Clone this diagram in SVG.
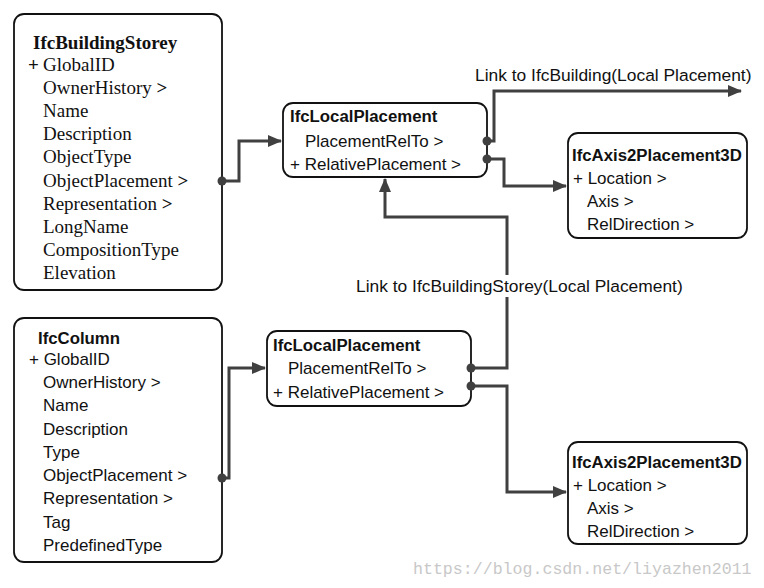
<svg xmlns="http://www.w3.org/2000/svg" width="764" height="588" viewBox="0 0 764 588">
<style>
.box{fill:#fff;stroke:#111;stroke-width:1.8}
.serif{font-family:"Liberation Serif","Times New Roman",serif;font-size:19px;fill:#111}
.serifb{font-family:"Liberation Serif","Times New Roman",serif;font-size:19px;font-weight:bold;fill:#111}
.sans{font-family:"Liberation Sans",Arial,sans-serif;font-size:17px;fill:#111}
.sansb{font-family:"Liberation Sans",Arial,sans-serif;font-size:16.8px;font-weight:bold;fill:#111}
.lbl{font-family:"Liberation Sans",Arial,sans-serif;font-size:17.4px;fill:#111}
.b{font-weight:bold}
.conn{fill:none;stroke:#404040;stroke-width:3;stroke-linejoin:miter}
.dot{fill:#404040}
.wm{font-family:"Liberation Mono","Courier New",monospace;font-size:16.6px;fill:#c8c8c8}
</style>
<defs>
<marker id="arr" markerUnits="userSpaceOnUse" markerWidth="14" markerHeight="12" viewBox="0 0 14 12" refX="13" refY="6" orient="auto">
<path d="M0,0 L14,6 L0,12 Z" fill="#404040"/>
</marker>
</defs>

<g id="IfcBuildingStorey">
<rect class="box" x="14" y="14" width="208" height="276" rx="10"/>
<text class="serifb" x="33" y="49">IfcBuildingStorey</text>
<text class="serifb" x="28" y="71">+</text>
<text class="serif" x="43" y="71">GlobalID</text>
<text class="serif" x="43" y="94">OwnerHistory <tspan class="b">&gt;</tspan></text>
<text class="serif" x="43" y="117">Name</text>
<text class="serif" x="43" y="140">Description</text>
<text class="serif" x="43" y="163">ObjectType</text>
<text class="serif" x="43" y="187">ObjectPlacement <tspan class="b">&gt;</tspan></text>
<text class="serif" x="43" y="210">Representation <tspan class="b">&gt;</tspan></text>
<text class="serif" x="43" y="233">LongName</text>
<text class="serif" x="43" y="256">CompositionType</text>
<text class="serif" x="43" y="279">Elevation</text>
</g>

<g id="IfcColumn">
<rect class="box" x="14" y="318" width="208" height="244" rx="10"/>
<text class="sansb" x="38" y="344">IfcColumn</text>
<text class="sans" x="29" y="365">+ GlobalID</text>
<text class="sans" x="43" y="388">OwnerHistory &gt;</text>
<text class="sans" x="43" y="411">Name</text>
<text class="sans" x="43" y="435">Description</text>
<text class="sans" x="43" y="458">Type</text>
<text class="sans" x="43" y="481">ObjectPlacement &gt;</text>
<text class="sans" x="43" y="504">Representation &gt;</text>
<text class="sans" x="43" y="528">Tag</text>
<text class="sans" x="43" y="551">PredefinedType</text>
</g>

<g id="IfcLocalPlacement1">
<rect class="box" x="283" y="103" width="204" height="74" rx="10"/>
<text class="sansb" x="290" y="122">IfcLocalPlacement</text>
<text class="sans" x="305" y="147">PlacementRelTo &gt;</text>
<text class="sans" x="290" y="170">+ RelativePlacement &gt;</text>
</g>

<g id="IfcAxis2Placement3D1">
<rect class="box" x="568" y="133" width="179" height="105" rx="10"/>
<text class="sansb" x="572" y="161">IfcAxis2Placement3D</text>
<text class="sans" x="573" y="184">+ Location &gt;</text>
<text class="sans" x="587" y="207">Axis &gt;</text>
<text class="sans" x="587" y="230">RelDirection &gt;</text>
</g>

<g id="IfcLocalPlacement2">
<rect class="box" x="267" y="331" width="204" height="75" rx="10"/>
<text class="sansb" x="273" y="351">IfcLocalPlacement</text>
<text class="sans" x="288" y="374">PlacementRelTo &gt;</text>
<text class="sans" x="273" y="398">+ RelativePlacement &gt;</text>
</g>

<g id="IfcAxis2Placement3D2">
<rect class="box" x="568" y="442" width="179" height="102" rx="10"/>
<text class="sansb" x="572" y="468">IfcAxis2Placement3D</text>
<text class="sans" x="573" y="491">+ Location &gt;</text>
<text class="sans" x="587" y="514">Axis &gt;</text>
<text class="sans" x="587" y="537">RelDirection &gt;</text>
</g>

<g id="connectors">
<path class="conn" d="M222,181 H239 V141 H281" marker-end="url(#arr)"/>
<path class="conn" d="M487,141 H494 V91 H741" marker-end="url(#arr)"/>
<path class="conn" d="M487,159 H504 V186 H566" marker-end="url(#arr)"/>
<path class="conn" d="M222,478 H229 V368 H265" marker-end="url(#arr)"/>
<path class="conn" d="M471,368 H507 V217 H385 V179" marker-end="url(#arr)"/>
<path class="conn" d="M471,386 H507 V492 H566" marker-end="url(#arr)"/>
<circle class="dot" cx="222" cy="181" r="4.5"/>
<circle class="dot" cx="222" cy="478" r="4.5"/>
<circle class="dot" cx="487" cy="141" r="4.5"/>
<circle class="dot" cx="487" cy="159" r="4.5"/>
<circle class="dot" cx="471" cy="368" r="4.5"/>
<circle class="dot" cx="471" cy="386" r="4.5"/>
<rect x="352" y="275" width="336" height="22" fill="#fff"/>
<text class="lbl" x="356" y="292">Link to IfcBuildingStorey(Local Placement)</text>
<text class="lbl" x="475" y="81">Link to IfcBuilding(Local Placement)</text>
</g>

<text class="wm" x="413" y="574">https://blog.csdn.net/liyazhen2011</text>
</svg>
